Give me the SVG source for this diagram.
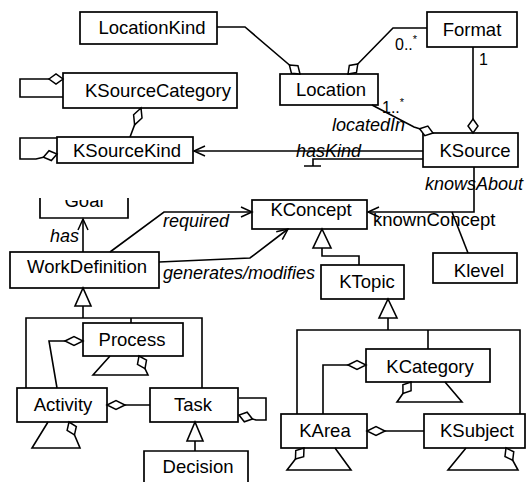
<svg xmlns="http://www.w3.org/2000/svg" width="530" height="482" viewBox="0 0 530 482">
<style>
.box{fill:#fff;stroke:#000;stroke-width:1.7}
.lbl{font-family:"Liberation Sans",Arial,sans-serif;font-size:18.5px;text-anchor:middle;fill:#000}
.it{font-family:"Liberation Sans",Arial,sans-serif;font-size:18px;font-style:italic;fill:#000}
.sm{font-family:"Liberation Sans",Arial,sans-serif;font-size:16px;fill:#000}
.ln{fill:none;stroke:#000;stroke-width:1.6}
.gen{fill:#fff;stroke:#000;stroke-width:1.6}
.dg{marker-end:url(#dia)}
.ds{marker-end:url(#dias)}
.ar{marker-end:url(#arr)}
</style>
<defs>
<marker id="dia" markerUnits="userSpaceOnUse" markerWidth="22" markerHeight="12" refX="20" refY="6" orient="auto" overflow="visible"><path d="M2,6 L11,1.5 L20,6 L11,10.5 Z" fill="#fff" stroke="#000" stroke-width="1.5"/></marker>
<marker id="dias" markerUnits="userSpaceOnUse" markerWidth="16" markerHeight="12" refX="15" refY="6" orient="auto" overflow="visible"><path d="M1,6 L8,1 L15,6 L8,11 Z" fill="#fff" stroke="#000" stroke-width="1.5"/></marker>
<marker id="arr" markerUnits="userSpaceOnUse" markerWidth="14" markerHeight="12" refX="12" refY="6" orient="auto" overflow="visible"><path d="M1,1 L12,6 L1,11" fill="none" stroke="#000" stroke-width="1.5"/></marker>
<clipPath id="goalclip"><rect x="30" y="200" width="110" height="30"/></clipPath>
</defs>

<g id="LocationKind"><rect class="box" x="80" y="12" width="137" height="32"/><text class="lbl" x="152" y="34">LocationKind</text></g>
<g id="Format"><rect class="box" x="427" y="12" width="90" height="35"/><text class="lbl" x="472" y="36">Format</text></g>
<g id="Location"><rect class="box" x="280" y="74" width="98" height="31"/><text class="lbl" x="331" y="96">Location</text></g>
<g id="KSource"><rect class="box" x="423" y="133" width="95" height="34"/><text class="lbl" x="475" y="157">KSource</text></g>
<g id="KSourceCategory"><rect class="box" x="63" y="73" width="174" height="35"/><text class="lbl" x="158" y="97">KSourceCategory</text></g>
<g id="KSourceKind"><rect class="box" x="57" y="137" width="136" height="26"/><text class="lbl" x="127" y="157">KSourceKind</text></g>
<g id="Goal"><path class="box" d="M40,198 L40,218 L128,218 L128,198"/><text class="lbl" x="84" y="207" clip-path="url(#goalclip)">Goal</text></g>
<g id="KConcept"><rect class="box" x="252" y="200" width="115" height="29"/><text class="lbl" x="311" y="216">KConcept</text></g>
<g id="WorkDefinition"><rect class="box" x="10" y="252" width="149" height="36"/><text class="lbl" x="87" y="273">WorkDefinition</text></g>
<g id="KTopic"><rect class="box" x="321" y="265" width="83" height="34"/><text class="lbl" x="367" y="288">KTopic</text></g>
<g id="Klevel"><rect class="box" x="433" y="253" width="84" height="30"/><text class="lbl" x="479" y="277">Klevel</text></g>
<g id="Process"><rect class="box" x="83" y="323" width="100" height="33"/><text class="lbl" x="132" y="346">Process</text></g>
<g id="Activity"><rect class="box" x="17" y="388" width="90" height="34"/><text class="lbl" x="63" y="411">Activity</text></g>
<g id="Task"><rect class="box" x="150" y="388" width="88" height="34"/><text class="lbl" x="193" y="411">Task</text></g>
<g id="Decision"><path class="box" d="M144,484 L144,451 L248,451 L248,484"/><text class="lbl" x="198" y="473">Decision</text></g>
<g id="KCategory"><rect class="box" x="366" y="349" width="124" height="33"/><text class="lbl" x="430" y="373">KCategory</text></g>
<g id="KArea"><rect class="box" x="281" y="414" width="86" height="34"/><text class="lbl" x="325" y="437">KArea</text></g>
<g id="KSubject"><rect class="box" x="424" y="414" width="101" height="34"/><text class="lbl" x="477" y="437">KSubject</text></g>

<g id="connectors">
<path class="ln ds" d="M217,27 L245,27 L300,74"/>
<path class="ln ds" d="M427,28 L393,28 L348,74"/>
<text class="sm" x="395" y="50">0..<tspan font-size="11" dy="-7">*</tspan></text>
<path class="ln ds" d="M473,47 L473,133"/>
<text class="sm" x="479" y="65">1</text>
<path class="ln ds" d="M372,105 L414,127 L433,133"/>
<text class="sm" x="382" y="113">1..<tspan font-size="11" dy="-7">*</tspan></text>
<text class="it" x="332" y="131">locatedIn</text>
<path class="ln ar" d="M423,151 L194,151"/>
<text class="it" x="296" y="157">hasKind</text>
<path class="ln" d="M423,159 L313,159 L313,166 M304,166 L321,166"/>
<path class="ln ds" d="M63,97 L20,97 L20,79 L63,79"/>
<path class="ln ds" d="M57,138 L20,138 L20,159 L36,159 L57,154"/>
<path class="ln dg" d="M130,137 L141,108"/>
<path class="ln ar" d="M474,167 L474,212 L368,212"/>
<text class="it" x="425" y="190">knowsAbout</text>
<path class="ln" d="M452,212 L468,253"/>
<text class="lbl" x="373" y="226" style="text-anchor:start">knownConcept</text>
<path class="ln ar" d="M110,252 L164,212 L252,212"/>
<text class="it" x="163" y="227">required</text>
<path class="ln ar" d="M159,262 L250,258 L288,229"/>
<text class="it" x="163" y="279">generates/modifies</text>
<path class="ln ar" d="M83,252 L83,219"/>
<text class="it" x="50" y="242">has</text>
<polygon class="gen" points="322,229 313,248 331,248"/>
<path class="ln" d="M322,248 L322,256 L359,256 L359,265"/>
<polygon class="gen" points="83,288 75,306 91,306"/>
<path class="ln" d="M83,306 L83,318 M26,388 L26,318 L202,318 L202,388 M131,318 L131,323"/>
<polygon class="gen" points="388,299 379,318 397,318"/>
<path class="ln" d="M388,318 L388,330 M297,414 L297,330 L520,330 L520,414 M428,330 L428,349"/>
<polygon class="gen" points="195,422 187,441 203,441"/>
<path class="ln" d="M195,441 L195,451"/>
<path class="ln dg" d="M57,388 L49,341 L83,341"/>
<path class="ln dg" d="M150,405 L107,405"/>
<path class="ln ds" d="M110,356 L93,375 L148,375 L139,356"/>
<path class="ln ds" d="M48,422 L32,448 L80,448 L69,422"/>
<path class="ln ds" d="M239,398 L266,398 L266,420 L256,420 L239,415"/>
<path class="ln dg" d="M323,414 L323,365 L366,365"/>
<path class="ln ds" d="M445,382 L462,402 L397,402 L411,382"/>
<path class="ln dg" d="M424,431 L367,431"/>
<path class="ln ds" d="M335,448 L351,470 L287,470 L304,448"/>
<path class="ln ds" d="M466,448 L448,470 L518,470 L506,448"/>
</g>
</svg>
